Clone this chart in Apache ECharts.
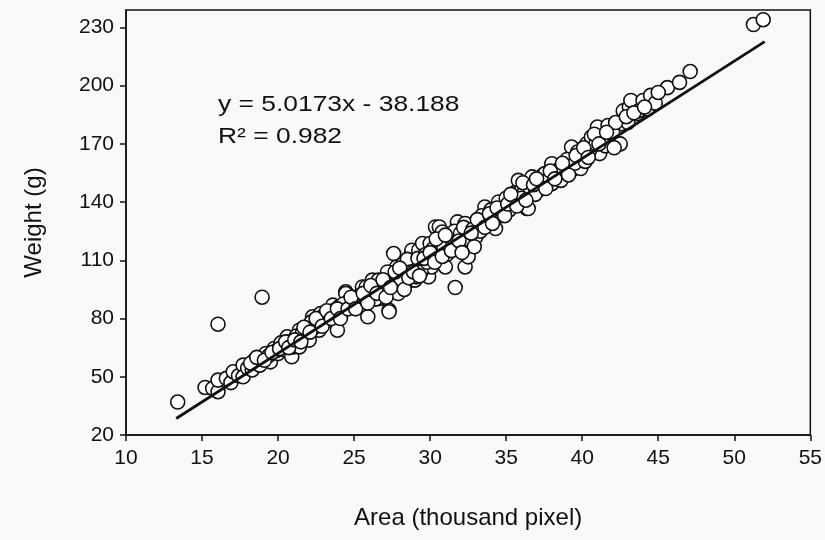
<!DOCTYPE html>
<html>
<head>
<meta charset="utf-8">
<script src="https://cdn.jsdelivr.net/npm/echarts@6/dist/echarts.min.js"></script>
<style>
  html, body { margin: 0; padding: 0; background: #f9f9f9; }
</style>
</head>
<body>
<div id="scatter" style="width: 825px; height: 540px;"></div>
<script>
// area (thousand pixel) / weight (g)
const points = [
  [13.4,37],[16.05,77.1],[18.95,91],[31.65,96],[51.26,231.5],[51.9,234],
  [15.2,44.5],[15.7,44],[16.05,42.3],[16.05,48.3],[16.6,49.2],[16.9,47],[17.05,52.6],[17.4,50.5],
  [17.7,56],[17.7,50],[18.0,54.5],[18.3,53.5],[18.45,58.6],[18.8,56],[19.0,60],[19.2,62],
  [19.5,57.7],[19.75,64.6],[20.0,62],[20.3,66],[20.6,70.6],[20.4,64],[20.9,60.3],[21.0,65.4],
  [21.4,74],[21.4,65.4],[21.8,69.8],[22.05,76.6],[22.05,68.9],[22.27,80.9],[22.2,78.3],[22.7,74],
  [22.8,82.6],[22.9,80.9],[23.4,79.2],[23.6,86.9],[23.7,84.3],[23.9,74],[24.2,84.3],[24.45,93.8],
  [24.45,92.9],[24.7,89.5],[25.2,88.6],[25.3,89.5],[25.55,96.3],[25.8,96.3],[25.9,80.9],[26.2,99.8],
  [26.6,94.6],[26.6,99.8],[26.7,90.4],[27.3,84.3],[27.3,83.5],[27.3,101.5],[27.3,99.8],[27.5,101.5],
  [27.6,113.5],[27.8,106.6],[27.9,92.9],[27.9,103.2],[28.4,98],[28.4,103.2],[28.6,106.6],[28.8,114.3],
  [28.8,115.2],[28.9,110],[29.0,99.8],[29.0,106.6],[29.1,101.5],[29.25,115.2],[29.5,108.4],[29.5,118.7],
  [29.9,101.5],[30.0,118.7],[30.1,106.6],[30.1,111.8],[30.35,127.2],[30.35,111.8],[30.6,127.2],[30.8,124.6],
  [31.0,106.6],[31.2,120.4],[31.8,129],[31.8,129.8],[32.1,118.7],[32.3,129],[32.3,106.6],[32.4,113.5],
  [32.5,111.8],[32.6,120.4],[33.0,122],[33.2,129],[33.5,131.5],[33.6,137.5],[34.2,134.1],[34.3,126.4],
  [34.5,140.1],[35.4,139.3],[35.6,145],[35.8,141],[35.8,151.2],[36.0,146],[36.2,145.2],[36.35,136.7],
  [36.45,136.7],[36.6,144.4],[36.7,153],[37.1,149.5],[37.1,146],[37.4,153.8],[37.55,154.7],[38.0,158.1],
  [38.0,159.8],[38.0,149.5],[38.6,151.2],[38.9,160.6],[39.3,168.4],[39.3,156.4],[39.7,165.8],[39.9,157.3],
  [40.3,170.1],[40.6,173.5],[41.0,178.7],[41.15,165],[41.7,179.5],[41.9,173.5],[42.35,170.1],[42.4,178.5],
  [42.5,170],[42.6,180.4],[42.7,187],[43.0,181],[43.1,189],[43.2,192.4],[43.65,185.6],[43.7,187],
  [44.0,192.4],[44.5,195],[45.6,199],[46.4,201.7],[47.1,207.3],
  [19.4,61],[19.9,63.5],[20.2,67.5],[20.8,68],[21.2,71],[21.6,72.5],[21.9,75],[22.4,75.5],
  [22.6,78],[23.1,79.5],[23.3,82.5],[23.8,81],[24.0,86],[24.3,87.5],[24.9,86.5],[25.0,91],
  [25.4,92],[25.7,89],[26.0,93],[26.3,95.5],[26.4,90],[26.8,97],[27.0,95],[27.2,104],
  [27.6,97.5],[28.1,100],[28.2,108],[28.5,110.5],[28.7,104],[29.2,111],[29.4,104],[29.7,113],
  [29.8,109],[30.2,116],[30.5,114],[30.7,120],[30.9,117],[31.1,113],[31.3,123],[31.5,118],
  [31.6,125],[32.0,124],[32.2,127],[32.8,126],[32.9,117],[33.3,125],[33.4,133],[33.8,129],
  [34.0,136],[34.6,133],[34.8,137],[35.0,142],[35.2,136],[35.5,141.5],[36.0,142],[36.5,148],
  [36.9,144],[37.3,150],[37.8,152],[38.3,155],[38.5,157],[39.0,162],[39.5,160],[40.0,164],
  [40.2,161],[40.5,167],[40.9,170],[41.3,172],[41.5,169],[42.0,176],[42.2,181],[44.3,188],[44.8,191],
  [18.2,57],[18.6,60],[19.1,58.5],[19.6,62.5],[20.1,64.5],[20.5,68],[20.7,65],[21.1,69],
  [21.5,68],[21.7,75.5],[22.1,73],[22.5,80],[22.9,76],[23.2,84],[23.5,80],[23.9,85],
  [24.1,80],[24.6,85],[24.8,91],[25.1,85],[25.6,93],[25.9,88],[26.1,97],[26.5,93],
  [26.9,100],[27.1,91],[27.4,96],[27.7,104],[28.0,106],[28.3,95],[28.6,101],[28.9,104],
  [29.3,102],[29.6,111],[30.0,114],[30.3,109],[30.4,121],[30.8,112],[31.0,123],[31.4,115],
  [31.9,120],[32.1,114],[32.7,124],[33.1,131],[33.6,127],[33.9,134],[34.1,129],[34.4,137],
  [34.9,133],[35.1,139],[35.3,144],[35.7,138],[36.1,150],[36.3,141],[36.8,149],[37.0,152],
  [37.6,147],[37.9,156],[38.2,152],[38.7,160],[39.1,154],[39.6,164],[40.1,168],[40.4,163],
  [40.8,175],[41.1,170],[41.6,176],[42.1,168],[42.9,184],[43.4,186],[44.1,189],[45.0,196.5]
];

// fitted line end points
const trendArea = [13.3, 52];
const trendWeight = [28.5, 222.7];

const xTicks = [10, 15, 20, 25, 30, 35, 40, 45, 50, 55];
const yTicks = [20, 50, 80, 110, 140, 170, 200, 230];

const equationText = 'y = 5.0173x - 38.188';
const r2Text = 'R² = 0.982';

const chartDom = document.getElementById('scatter');
const myChart = echarts.init(chartDom);
const font = 'Liberation Sans, Arial, sans-serif';

let option = {
  backgroundColor: '#f9f9f9',
  animation: false,
  grid: {
    left: 126,
    right: 12,
    top: 10,
    bottom: 105,
    show: true,
    borderColor: '#111',
    borderWidth: 1.5,
    backgroundColor: 'transparent'
  },
  xAxis: {
    type: 'value',
    min: 10,
    max: 55,
    interval: 5,
    name: 'Area (thousand pixel)',
    nameLocation: 'middle',
    nameGap: 71,
    nameTextStyle: { color: '#111', fontSize: 24, fontFamily: font },
    axisLine: { lineStyle: { color: '#111', width: 1.5 } },
    axisTick: { length: 6, lineStyle: { color: '#111', width: 1.5 }, customValues: xTicks },
    axisLabel: { color: '#111', fontSize: 21, fontFamily: font, margin: 13, customValues: xTicks },
    splitLine: { show: false }
  },
  yAxis: {
    type: 'value',
    min: 20,
    max: 239,
    interval: 30,
    name: 'Weight (g)',
    nameLocation: 'middle',
    nameGap: 80,
    nameTextStyle: { color: '#111', fontSize: 24, fontFamily: font },
    axisLine: { lineStyle: { color: '#111', width: 1.5 } },
    axisTick: { length: 6, lineStyle: { color: '#111', width: 1.5 }, customValues: yTicks },
    axisLabel: { color: '#111', fontSize: 21, fontFamily: font, margin: 12, customValues: yTicks },
    splitLine: { show: false }
  },
  graphic: [
    {
      type: 'text',
      x: 218,
      y: 94,
      scaleX: 1.2,
      style: { text: equationText, fill: '#111', font: '22px ' + font, textVerticalAlign: 'top' }
    },
    {
      type: 'text',
      x: 218,
      y: 126,
      scaleX: 1.2,
      style: { text: r2Text, fill: '#111', font: '22px ' + font, textVerticalAlign: 'top' }
    }
  ],
  series: [
    {
      type: 'scatter',
      data: points,
      symbol: 'circle',
      symbolSize: 14,
      itemStyle: {
        color: '#fff',
        borderColor: '#111',
        borderWidth: 1.6,
        opacity: 1
      },
      z: 2
    },
    {
      type: 'line',
      data: trendArea.map((a, i) => [a, trendWeight[i]]),
      symbol: 'none',
      lineStyle: { color: '#111', width: 2.8 },
      z: 3
    }
  ]
};
option && myChart.setOption(option);
</script>
</body>
</html>
